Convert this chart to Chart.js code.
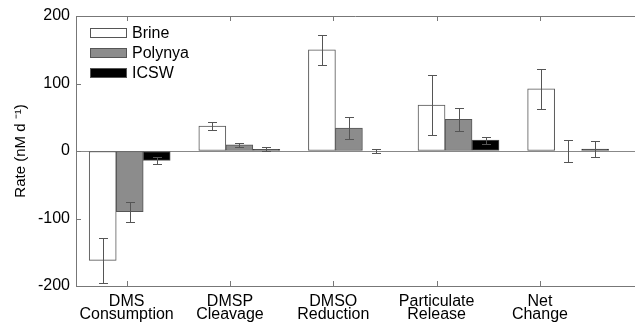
<!DOCTYPE html>
<html>
<head>
<meta charset="utf-8">
<script src="https://cdn.jsdelivr.net/npm/chart.js@4/dist/chart.umd.min.js"></script>
<style>
  html, body { margin: 0; padding: 0; background: #fff; }
  #wrap { width: 635px; height: 322px; }
</style>
</head>
<body>
<div id="wrap"><canvas id="grafico" width="635" height="322"></canvas></div>
<script>
// Dados
const categorias = [['DMS', 'Consumption'], ['DMSP', 'Cleavage'], ['DMSO', 'Reduction'], ['Particulate', 'Release'], ['Net', 'Change']];
const nomesSeries = ['Brine', 'Polynya', 'ICSW'];
const brine = [-162, 37, 150, 68, 92];
const polynya = [-90, 9, 34, 47, 0];
const icsw = [-14, 2.5, 0, 16, 3];
const erroBrine = [33, 5.5, 22, 44, 30];
const erroPolynya = [15, 3, 16, 17, 16];
const erroIcsw = [5, 3, 3, 5, 12];
const yTicks = [-200, -100, 0, 100, 200];

const FONTE = '"Liberation Sans", Arial, Helvetica, sans-serif';
const corEixo = '#777';

function pontos(valores) {
    return valores.map((v, i) => ({ x: i + 1, y: v }));
}

// Barras de erro desenhadas por cima das barras
const barrasErro = {
    id: 'barrasErro',
    afterDatasetsDraw(chart) {
        const ctx = chart.ctx;
        const y = chart.scales.y;
        ctx.save();
        ctx.strokeStyle = '#555';
        ctx.lineWidth = 1;
        chart.data.datasets.forEach((ds, i) => {
            chart.getDatasetMeta(i).data.forEach((bar, j) => {
                const v = ds.data[j].y, e = ds.erros[j];
                const x = Math.round(bar.x) + 0.5;
                const y1 = Math.round(y.getPixelForValue(v + e)) + 0.5;
                const y2 = Math.round(y.getPixelForValue(v - e)) + 0.5;
                ctx.beginPath();
                ctx.moveTo(x, y1); ctx.lineTo(x, y2);
                ctx.moveTo(x - 4.5, y1); ctx.lineTo(x + 4.5, y1);
                ctx.moveTo(x - 4.5, y2); ctx.lineTo(x + 4.5, y2);
                ctx.stroke();
            });
        });
        ctx.restore();
    }
};

// Legenda dentro da área do gráfico (canto superior esquerdo, sem moldura)
const legendaInterna = {
    id: 'legendaInterna',
    afterDraw(chart) {
        const ctx = chart.ctx, a = chart.chartArea;
        ctx.save();
        ctx.font = '16px ' + FONTE;
        ctx.textBaseline = 'middle';
        ctx.lineWidth = 1;
        chart.data.datasets.forEach((ds, i) => {
            const yy = Math.round(a.top + 17 + i * 20);
            ctx.fillStyle = ds.backgroundColor;
            ctx.fillRect(a.left + 14, yy - 5, 37, 10);
            ctx.strokeStyle = '#555';
            ctx.strokeRect(a.left + 14.5, yy - 4.5, 36, 9);
            ctx.fillStyle = '#000';
            ctx.fillText(ds.label, a.left + 56, yy + 1);
        });
        ctx.restore();
    }
};

// Marcas dos eixos para dentro + linha superior (estilo MATLAB)
const eixosInternos = {
    id: 'eixosInternos',
    afterDraw(chart) {
        const ctx = chart.ctx, a = chart.chartArea;
        const y = chart.scales.y, x2 = chart.scales.x2;
        ctx.save();
        ctx.strokeStyle = corEixo;
        ctx.lineWidth = 1;
        ctx.beginPath();
        ctx.moveTo(a.left, a.top + 0.5); ctx.lineTo(a.right, a.top + 0.5);
        y.ticks.forEach(t => {
            const p = Math.round(y.getPixelForValue(t.value)) + 0.5;
            ctx.moveTo(a.left, p); ctx.lineTo(a.left + 5, p);
        });
        x2.ticks.forEach(t => {
            const p = Math.round(x2.getPixelForValue(t.value)) + 0.5;
            ctx.moveTo(p, a.bottom); ctx.lineTo(p, a.bottom - 5);
            ctx.moveTo(p, a.top); ctx.lineTo(p, a.top + 5);
        });
        ctx.stroke();
        ctx.restore();
    }
};

const ctx = document.getElementById('grafico').getContext('2d');
new Chart(ctx, {
    type: 'bar',
    data: {
        datasets: [
            { label: nomesSeries[0], data: pontos(brine), erros: erroBrine, backgroundColor: '#ffffff' },
            { label: nomesSeries[1], data: pontos(polynya), erros: erroPolynya, backgroundColor: '#8c8c8c' },
            { label: nomesSeries[2], data: pontos(icsw), erros: erroIcsw, backgroundColor: '#000000' }
        ]
    },
    options: {
        responsive: false,
        devicePixelRatio: 1,
        animation: false,
        layout: { padding: { left: 0, right: 0, top: 16, bottom: 0 } },
        datasets: {
            bar: { barThickness: 27, borderColor: '#555', borderWidth: 1, borderSkipped: false, grouped: true }
        },
        plugins: {
            legend: { display: false },
            tooltip: { enabled: false }
        },
        scales: {
            x: {
                type: 'linear', display: false, min: 0.51, max: 5.61, offset: false,
                grid: { offset: false }
            },
            x2: {
                type: 'linear', position: 'bottom', min: 0.51, max: 5.92, offset: false,
                afterBuildTicks: s => { s.ticks = categorias.map((c, i) => ({ value: i + 1 })); },
                afterFit: s => { s.height = 36; },
                ticks: {
                    callback: v => categorias[v - 1],
                    color: '#000',
                    font: { family: FONTE, size: 16, lineHeight: 0.82 },
                    padding: 9, maxRotation: 0, autoSkip: false
                },
                grid: { display: false, drawTicks: false },
                border: { display: true, color: corEixo }
            },
            y: {
                min: yTicks[0], max: yTicks[yTicks.length - 1],
                afterBuildTicks: s => { s.ticks = yTicks.map(v => ({ value: v })); },
                afterFit: s => { s.width = 76; },
                ticks: { color: '#000', font: { family: FONTE, size: 16 }, padding: 6 },
                grid: {
                    color: c => (c.tick && c.tick.value === 0) ? '#888' : 'rgba(0,0,0,0)',
                    drawTicks: false
                },
                border: { display: true, color: corEixo },
                title: {
                    display: true,
                    text: 'Rate (nM d \u207B\u00B9)',
                    color: '#000',
                    font: { family: FONTE, size: 15 },
                    padding: { top: 12, bottom: 0 }
                }
            }
        }
    },
    plugins: [barrasErro, legendaInterna, eixosInternos]
});
</script>
</body>
</html>
